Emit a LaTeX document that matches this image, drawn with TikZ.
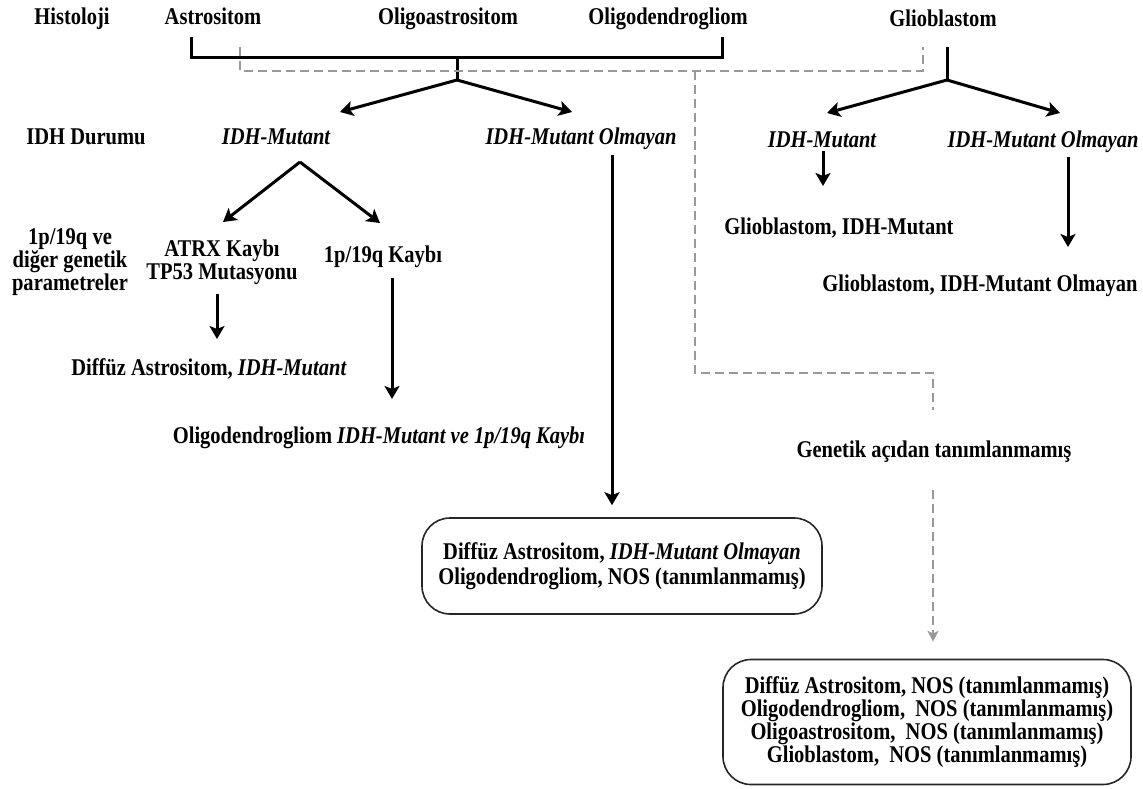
\documentclass[tikz,border=0pt]{standalone}
\usepackage{fontspec}
\setmainfont[FakeStretch=0.855]{Liberation Serif}
\usetikzlibrary{arrows.meta}
\begin{document}
\begin{tikzpicture}[x=1pt,y=-1pt,
  lbl/.style={font=\bfseries\fontsize{24}{23}\selectfont, inner sep=0pt, align=center},
  ilbl/.style={font=\bfseries\itshape\fontsize{24}{23}\selectfont, inner sep=0pt, align=center},
  ln/.style={line width=3pt, black},
  arr/.style={line width=3pt, black, -{Stealth[length=13pt,width=15pt,inset=3pt]}},
  gd/.style={line width=2.6pt, color=black!40, dash pattern=on 9pt off 5pt},
  garr/.style={gd, -{Stealth[length=11pt,width=11pt,inset=3pt]}},
  rbox/.style={draw=black!85, line width=1.6pt, rounded corners=28pt, inner sep=0pt}]
\useasboundingbox (0,0) rectangle (1143,789);

% top row
\node[lbl, anchor=base] (hist) at (72,25) {Histoloji};
\node[lbl, anchor=base] (astro) at (213,25) {Astrositom};
\node[lbl, anchor=base] (oligoa) at (448,25) {Oligoastrositom};
\node[lbl, anchor=base] (oligod) at (668,25) {Oligodendrogliom};
\node[lbl, anchor=base] (glio) at (943,27) {Glioblastom};

% bracket
\coordinate (bl) at (191,37);
\coordinate (blc) at (191,58);
\coordinate (br) at (722,37);
\coordinate (brc) at (722,58);
\coordinate (stemtop) at (457,58);
\coordinate (apex) at (457,80);
\draw[ln] (bl) -- (blc) -- (brc) -- (br);
\draw[ln] (stemtop) -- (apex);

% glio stem
\coordinate (gtop) at (947,47);
\coordinate (gapex) at (947,80);
\draw[ln] (gtop) -- (gapex);

% dashed grey path
\coordinate (d1) at (240,47);
\coordinate (d2) at (240,71);
\coordinate (d3) at (923,71);
\coordinate (d4) at (923,47);
\coordinate (dv) at (695,71);
\coordinate (dv2) at (695,373);
\coordinate (dh2) at (933,373);
\coordinate (dh3) at (933,410);
\draw[gd] (d1) -- (d2) -- (d3) -- (d4);
\draw[gd] (dv) -- (dv2) -- (dh2) -- (dh3);

% second row
\node[lbl, anchor=base] (idhd) at (86,145) {IDH Durumu};
\node[ilbl, anchor=base] (m1) at (276,145) {IDH-Mutant};
\node[ilbl, anchor=base] (nm1) at (581,145) {IDH-Mutant Olmayan};
\node[ilbl, anchor=base] (m2) at (822,147) {IDH-Mutant};
\node[ilbl, anchor=base] (nm2) at (1043,147) {IDH-Mutant Olmayan};

\coordinate (t1) at (340,112);
\coordinate (t2) at (572,112);
\coordinate (t3) at (827,113);
\coordinate (t4) at (1060,113);
\draw[arr] (apex) -- (t1);
\draw[arr] (apex) -- (t2);
\draw[arr] (gapex) -- (t3);
\draw[arr] (gapex) -- (t4);

% glioblastom outcomes
\node[lbl, anchor=base] (gm) at (839,234) {Glioblastom, IDH-Mutant};
\node[lbl, anchor=base] (gnm) at (980,291) {Glioblastom, IDH-Mutant Olmayan};
\coordinate (a1s) at (823,151);
\coordinate (a1e) at (823,186);
\draw[arr] (a1s) -- (a1e);
\coordinate (a2s) at (1068,157);
\coordinate (a2e) at (1068,247);
\draw[arr] (a2s) -- (a2e);

% IDH-mutant branch
\coordinate (apex2) at (300,162);
\coordinate (t5) at (223,222);
\coordinate (t6) at (380,223);
\draw[arr] (apex2) -- (t5);
\draw[arr] (apex2) -- (t6);

\node[lbl] (param) at (70,262) {1p/19q ve\\diğer genetik\\parametreler};
\node[lbl] (atrx) at (222,262) {ATRX Kaybı\\TP53 Mutasyonu};
\node[lbl, anchor=base] (k1p) at (383,262) {1p/19q Kaybı};
\node[lbl, anchor=base] (da) at (209,375) {Diffüz Astrositom, \textit{IDH-Mutant}};
\node[lbl, anchor=base] (od) at (379,443) {Oligodendrogliom \textit{IDH-Mutant ve 1p/19q Kaybı}};

\coordinate (a3s) at (217,294);
\coordinate (a3e) at (217,339);
\draw[arr] (a3s) -- (a3e);
\coordinate (a4s) at (392,278);
\coordinate (a4e) at (392,399);
\draw[arr] (a4s) -- (a4e);

% middle long arrow and box
\node[rbox, lbl, minimum width=400pt, minimum height=96pt] (box1) at (622,566)
  {Diffüz Astrositom, \textit{IDH-Mutant Olmayan}\\[2pt]Oligodendrogliom, NOS (tanımlanmamış)};
\coordinate (a5s) at (612,155);
\draw[arr] (a5s) -- ([yshift=12pt]box1.north -| a5s);

% genetik
\node[lbl, anchor=base] (gen) at (934,457) {Genetik açıdan tanımlanmamış};
\node[rbox, lbl, minimum width=408pt, minimum height=125pt] (box2) at (927,722)
  {Diffüz Astrositom, NOS (tanımlanmamış)\\Oligodendrogliom,~ NOS (tanımlanmamış)\\Oligoastrositom,~ NOS (tanımlanmamış)\\Glioblastom,~ NOS (tanımlanmamış)};
\coordinate (g1) at (933,490);
\draw[garr] (g1) -- ([yshift=17pt]box2.north -| g1);
\end{tikzpicture}
\end{document}
